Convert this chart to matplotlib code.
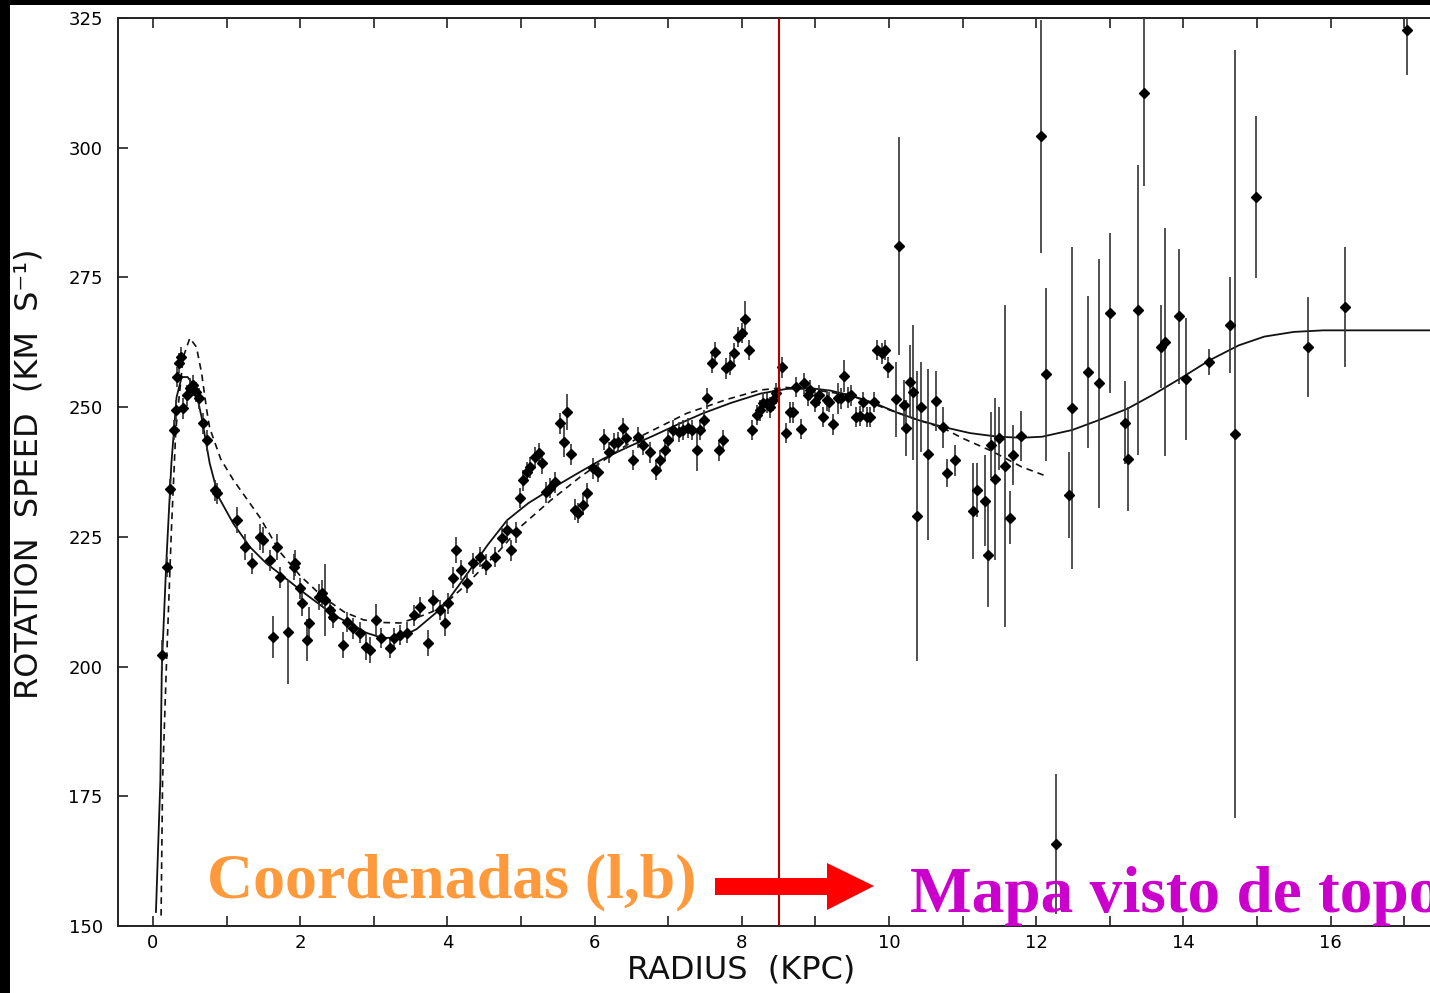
import numpy as np
import matplotlib
matplotlib.use("Agg")
import matplotlib.pyplot as plt
from matplotlib.patches import Rectangle, Polygon
from matplotlib.ticker import MultipleLocator

# rotation curve measurements: radius (kpc), speed (km/s), error (km/s)
radius = [0.12, 0.19, 0.23, 0.28, 0.31, 0.33, 0.36, 0.38, 0.41, 0.46, 0.50, 0.55, 0.59, 0.63, 0.68, 0.73, 0.84, 0.87,
          1.14, 1.25, 1.34, 1.45, 1.50, 1.59, 1.63, 1.68, 1.73, 1.84, 1.91, 1.93, 2.00, 2.02, 2.09, 2.12, 2.25, 2.29,
          2.34, 2.40, 2.45, 2.58, 2.63, 2.72, 2.81, 2.90, 2.95, 3.03, 3.10, 3.22, 3.27, 3.36, 3.45, 3.54, 3.63, 3.74,
          3.81, 3.90, 3.97, 4.01, 4.08, 4.12, 4.19, 4.26, 4.35, 4.44, 4.53, 4.65, 4.74, 4.81, 4.87, 4.93, 4.98, 5.03,
          5.08, 5.12, 5.19, 5.24, 5.28, 5.34, 5.39, 5.46, 5.53, 5.58, 5.62, 5.68, 5.73, 5.78, 5.84, 5.89, 5.98, 6.05,
          6.13, 6.19, 6.26, 6.32, 6.38, 6.43, 6.52, 6.59, 6.66, 6.75, 6.83, 6.89, 6.96, 7.00, 7.07, 7.14, 7.20, 7.27,
          7.32, 7.39, 7.43, 7.48, 7.53, 7.59, 7.64, 7.69, 7.74, 7.79, 7.84, 7.89, 7.95, 8.00, 8.04, 8.10, 8.14, 8.20,
          8.25, 8.29, 8.34, 8.38, 8.43, 8.47, 8.54, 8.60, 8.65, 8.70, 8.74, 8.80, 8.84, 8.90, 8.93, 9.00, 9.05, 9.10,
          9.16, 9.19, 9.24, 9.31, 9.35, 9.39, 9.44, 9.49, 9.55, 9.60, 9.65, 9.70, 9.74, 9.80, 9.84, 9.90, 9.94, 9.99,
          10.10, 10.14, 10.20, 10.23, 10.29, 10.33, 10.38, 10.44, 10.53, 10.64, 10.74, 10.79, 10.89, 11.14, 11.19,
          11.30, 11.35, 11.39, 11.44, 11.50, 11.58, 11.64, 11.68, 11.79, 12.07, 12.13, 12.27, 12.45, 12.49, 12.70,
          12.85, 13.00, 13.20, 13.25, 13.38, 13.46, 13.69, 13.75, 13.94, 14.04, 14.35, 14.63, 14.70, 14.98, 15.69,
          16.19, 17.04]
speed = [202.2, 219.2, 234.2, 245.6, 249.4, 255.8, 258.5, 259.6, 249.8, 252.3, 253.7, 254.2, 252.9, 251.7, 246.9, 243.6, 234.0, 233.4,
         228.2, 223.0, 219.9, 225.0, 224.4, 220.5, 205.7, 223.0, 217.2, 206.6, 219.2, 220.0, 215.1, 212.2, 205.1, 208.4, 213.4, 214.2,
         212.8, 210.9, 209.5, 204.1, 208.6, 207.4, 206.5, 203.8, 203.2, 209.0, 205.5, 203.6, 205.5, 206.1, 206.5, 209.9, 211.5, 204.5,
         212.8, 210.9, 208.4, 212.2, 217.1, 222.4, 218.6, 216.1, 219.9, 221.1, 219.6, 221.1, 224.8, 226.3, 222.4, 225.9, 232.5, 235.9,
         237.5, 238.4, 240.4, 241.1, 239.2, 233.6, 234.4, 235.5, 246.9, 243.3, 249.0, 240.9, 230.2, 229.6, 231.2, 233.4, 238.2, 237.5,
         243.8, 241.3, 243.1, 243.3, 246.0, 244.0, 239.8, 244.2, 242.7, 241.3, 237.9, 239.8, 241.7, 243.6, 245.6, 245.2, 245.6, 246.0,
         245.6, 241.7, 245.6, 247.5, 251.7, 258.5, 260.6, 241.7, 243.6, 257.5, 258.1, 260.4, 263.5, 264.3, 267.0, 261.0, 245.6, 248.5,
         249.4, 250.8, 250.8, 250.0, 251.3, 252.7, 257.7, 245.0, 249.0, 249.0, 253.9, 245.8, 254.6, 252.3, 253.3, 251.0, 252.3, 248.1,
         251.3, 251.0, 246.7, 251.7, 251.7, 256.0, 251.9, 252.3, 248.1, 248.3, 251.0, 248.1, 248.1, 251.0, 261.0, 260.4, 261.0, 257.7,
         251.5, 281.0, 250.4, 246.0, 254.9, 252.9, 229.0, 250.0, 240.9, 251.2, 246.1, 237.3, 239.8, 230.0, 234.0,
         232.0, 221.5, 242.7, 236.1, 244.0, 238.6, 228.7, 240.8, 244.4, 302.2, 256.3, 165.8, 233.0, 249.8, 256.8,
         254.6, 268.2, 247.0, 240.0, 268.7, 310.6, 261.6, 262.6, 267.5, 255.4, 258.7, 265.8, 244.8, 290.5, 261.6,
         269.3, 322.6]
speed_err = [3, 2, 2, 2, 2, 2, 2, 2, 2, 2, 2, 2, 2, 2, 2, 2, 2, 2,
             2.5, 2.5, 2, 2.5, 2.5, 2, 4, 2.5, 2, 10, 2.5, 2.5, 2, 2.5, 4, 3, 2.5, 2.5,
             7, 2, 2, 2.5, 2, 2, 2, 2.5, 2.5, 3, 2, 2, 2, 2, 2, 2, 2, 2.5,
             2, 2, 2.5, 2, 2, 2.5, 2, 2, 2, 2, 2, 2, 2, 2, 2, 2, 2, 2,
             2, 2, 2, 2, 2, 2, 2, 2, 2, 3, 3.5, 2, 2, 2, 2, 2, 2, 2,
             2, 2, 2, 2, 2, 2, 2, 2, 2, 2, 2, 2, 2, 2, 2, 2, 2, 2,
             2, 4, 2, 2, 2, 2, 2, 2, 2, 2, 2, 2, 2, 2, 3.5, 2, 2, 2,
             2, 2, 2, 2, 2, 2, 2, 2, 2, 2, 2, 2, 2, 2, 2, 2, 2, 2,
             2, 2, 2, 3, 2, 3, 2, 2, 2, 2, 2, 2, 2, 2, 2, 2, 2, 2,
             7.2, 21, 4.8, 5.4, 7, 13, 28, 8.7, 16.5, 5.8, 4, 2.7, 3, 9.3, 5.2,
             8.8, 10, 6.4, 15.6, 6.1, 31, 5.1, 5.8, 4.8, 22.5, 16.7, 13.5, 8.3, 31, 14.6,
             24, 15.4, 8, 10, 28, 18, 8, 22, 13, 11.7, 2.6, 9.2, 74, 15.6, 9.6,
             11.5, 8.5]

# model curves
fit_r = [0.04, 0.10, 0.12, 0.18, 0.25, 0.32, 0.39, 0.47, 0.57, 0.66, 0.77, 0.89, 1.09, 1.32, 1.54, 1.82, 2.09, 2.45,
         2.90, 3.12, 3.35, 3.58, 3.94, 4.20, 4.55, 4.81, 5.10, 5.44, 5.80, 6.11, 6.45, 6.80, 7.15, 7.47, 7.85, 8.25,
         8.60, 8.90, 9.20, 9.47, 9.80, 10.10, 10.40, 10.73, 11.10, 11.48, 11.80, 12.08, 12.49, 12.85, 13.24, 13.60,
         13.99, 14.35, 14.75, 15.10, 15.50, 15.90, 17.50]
fit_v = [152.7, 178.0, 200.0, 219.9, 239.2, 251.9, 255.8, 255.8, 253.9, 248.1, 239.2, 232.7, 227.6, 223.0, 219.9, 216.8, 213.8, 210.0,
         206.5, 205.5, 205.6, 207.2, 211.5, 216.5, 223.5, 228.2, 231.5, 234.5, 237.5, 240.0, 242.3, 244.5, 246.8, 248.8, 250.8, 252.6,
         253.5, 253.7, 253.2, 252.3, 250.8, 249.0, 247.5, 246.2, 245.0, 244.3, 244.1, 244.3, 245.6, 247.5, 249.7, 252.5,
         255.8, 259.0, 261.9, 263.6, 264.5, 264.8, 264.8]
alt_r = [0.11, 0.13, 0.18, 0.25, 0.31, 0.41, 0.50, 0.59, 0.66, 0.73, 0.77, 0.92, 1.09, 1.45, 1.73, 2.00, 2.31, 2.60, 2.86,
         3.10, 3.36, 3.60, 3.80, 4.00, 4.27, 4.71, 4.99, 5.40, 5.80, 6.20, 6.60, 7.25, 7.80, 8.25, 8.60, 9.00, 9.47,
         10.00, 10.40, 10.73, 11.00, 11.40, 11.80, 12.10]
alt_v = [152.0, 178.0, 199.3, 226.3, 245.6, 259.6, 263.3, 261.6, 256.6, 249.4, 246.0, 240.0, 236.0, 228.8, 222.0, 217.5, 213.4, 210.5, 209.0,
         208.5, 208.4, 209.5, 210.6, 212.5, 216.0, 222.4, 226.9, 232.0, 236.5, 240.5, 244.2, 248.8, 251.5, 253.3, 253.8, 253.3, 252.3,
         249.5, 247.5, 246.0, 244.0, 241.5, 238.5, 236.9]

sun_radius = 8.5

W, H = 1430, 993
fig = plt.figure(figsize=(W / 100, H / 100), dpi=100, facecolor="black")
# white page with a thin black border on the left and top
fig.add_artist(Rectangle((10 / W, 0), 1, 1 - 5 / H, transform=fig.transFigure,
                         facecolor="white", edgecolor="none", zorder=-10))

ax = fig.add_axes([118 / W, 67 / H, (1440 - 118) / W, 908 / H])
ax.set_xlim(-0.4755, 17.486)
ax.set_ylim(150, 325)

ax.plot(fit_r, fit_v, color="#111111", lw=1.3, zorder=2)
ax.plot(alt_r, alt_v, color="#111111", lw=1.2, dashes=(4, 3), zorder=2)
ax.errorbar(radius, speed, yerr=speed_err, fmt="D", ms=5.5, color="black",
            ecolor="#333333", elinewidth=1.2, capsize=0, zorder=3)
ax.axvline(sun_radius, color="#B00000", lw=1.5, zorder=4)

for s in ["left", "bottom", "top", "right"]:
    ax.spines[s].set_color("#222222")
    ax.spines[s].set_linewidth(1.4)

ax.xaxis.set_major_locator(MultipleLocator(2))
ax.xaxis.set_minor_locator(MultipleLocator(1))
ax.yaxis.set_major_locator(MultipleLocator(25))
ax.tick_params(axis="x", which="both", direction="in", top=True, length=7.2,
               width=1.2, color="#222222", labelsize=13, pad=6)
ax.tick_params(axis="y", which="major", direction="in", length=7.2, width=1.2,
               color="#222222", labelsize=13, pad=11)

fig.text(741 / W, 1 - 970 / H, "RADIUS  (KPC)", ha="center", va="center",
         fontsize=23, color="#111111")
fig.text(29 / W, 1 - 474 / H, "ROTATION  SPEED  (KM  S⁻¹)", ha="center", va="center",
         rotation=90, fontsize=23, color="#111111")

fig.text(207 / W, 1 - 897 / H, "Coordenadas (l,b)", ha="left", va="baseline",
         fontsize=46, family="Liberation Serif", weight="bold", color="#FF9A3C")
fig.text(910 / W, 1 - 912 / H, "Mapa visto de topo", ha="left", va="baseline",
         fontsize=47, family="Liberation Serif", weight="bold", color="#CC00CC")

# red arrow between the two captions
arrow_px = [(715, 878), (827, 878), (827, 863), (874, 886), (827, 910), (827, 895), (715, 895)]
fig.add_artist(Polygon([(x / W, 1 - y / H) for x, y in arrow_px], closed=True,
                       transform=fig.transFigure, facecolor="#FF0000", edgecolor="none", zorder=5))

fig.savefig("out.png", dpi=100)
